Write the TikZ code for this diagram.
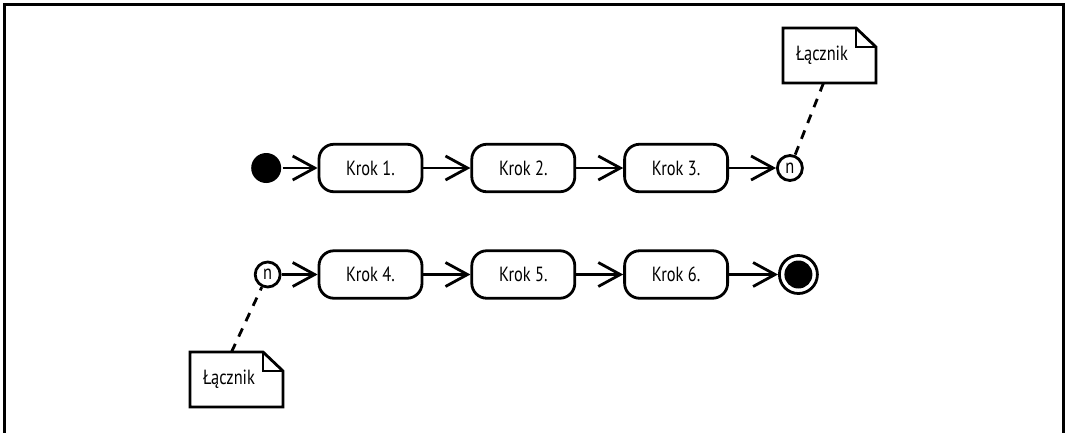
\documentclass[tikz,border=0pt]{standalone}
\usepackage{fontspec}
\setmainfont{PT Sans}[FakeStretch=0.8]
\usetikzlibrary{positioning,arrows.meta}

\begin{document}
\begin{tikzpicture}[
    x=1pt, y=-1pt,
    node distance=47pt,
    line width=2.8pt,
    font=\fontsize{20.5}{22}\selectfont,
    krok/.style={rectangle, draw, rounded corners=15pt, minimum width=103pt, minimum height=47.5pt},
    poczatek/.style={circle, fill, minimum size=30pt, inner sep=0pt},
    koniec/.style={circle, draw, minimum size=38pt, inner sep=0pt,
        path picture={\fill (path picture bounding box.center) circle (14pt);}},
    lacznik/.style={circle, draw, minimum size=25pt, inner sep=0pt},
    notatka/.style={outer sep=0pt, text width=67pt, inner xsep=13pt, minimum height=55pt, align=left},
    przejscie/.style={-{Straight Barb[length=22pt, width=24pt]}},
    kreska/.style={dash pattern=on 9pt off 8pt}
]
    \useasboundingbox (0,0) rectangle (1065,432);
    \draw[line width=3pt] (4,440) -- (4,4) -- (1063,4) -- (1063,440);

    % Pierwszy wiersz
    \node[krok] (k1) at (370.5,168) {Krok 1.};
    \node[krok, right=of k1] (k2) {Krok 2.};
    \node[krok, right=of k2] (k3) {Krok 3.};
    \node[poczatek, left=35pt of k1] (start) {};
    \node[lacznik, right=of k3] (l1) {n};

    % Drugi wiersz
    \node[krok] (k4) at (370.5,274.5) {Krok 4.};
    \node[krok, right=of k4] (k5) {Krok 5.};
    \node[krok, right=of k5] (k6) {Krok 6.};
    \node[lacznik, left=36pt of k4] (l2) {n};
    \node[koniec, right=49pt of k6] (stop) {};

    % Przejscia
    \draw[przejscie] (start) -- (k1);
    \draw[przejscie] (k1) -- (k2);
    \draw[przejscie] (k2) -- (k3);
    \draw[przejscie] (k3) -- (l1);
    \draw[przejscie] (l2) -- (k4);
    \draw[przejscie] (k4) -- (k5);
    \draw[przejscie] (k5) -- (k6);
    \draw[przejscie] (k6) -- (stop);

    % Notatki
    \node[notatka] (n1) at (829.5,55.5) {Łącznik};
    \draw[line join=miter] (n1.north west) -- ([xshift=-20pt]n1.north east)
        -- ([yshift=-19pt]n1.north east) -- (n1.south east) -- (n1.south west) -- cycle;
    \draw[line join=miter] ([xshift=-20pt]n1.north east) |- ([yshift=-19pt]n1.north east);
    \node[notatka] (n2) at (236.5,379.5) {Łącznik};
    \draw[line join=miter] (n2.north west) -- ([xshift=-20pt]n2.north east)
        -- ([yshift=-19pt]n2.north east) -- (n2.south east) -- (n2.south west) -- cycle;
    \draw[line join=miter] ([xshift=-20pt]n2.north east) |- ([yshift=-19pt]n2.north east);

    \draw[kreska] ([xshift=-6pt]n1.south) -- (l1);
    \draw[kreska] ([xshift=-5pt]n2.north) -- (l2);
\end{tikzpicture}
\end{document}
